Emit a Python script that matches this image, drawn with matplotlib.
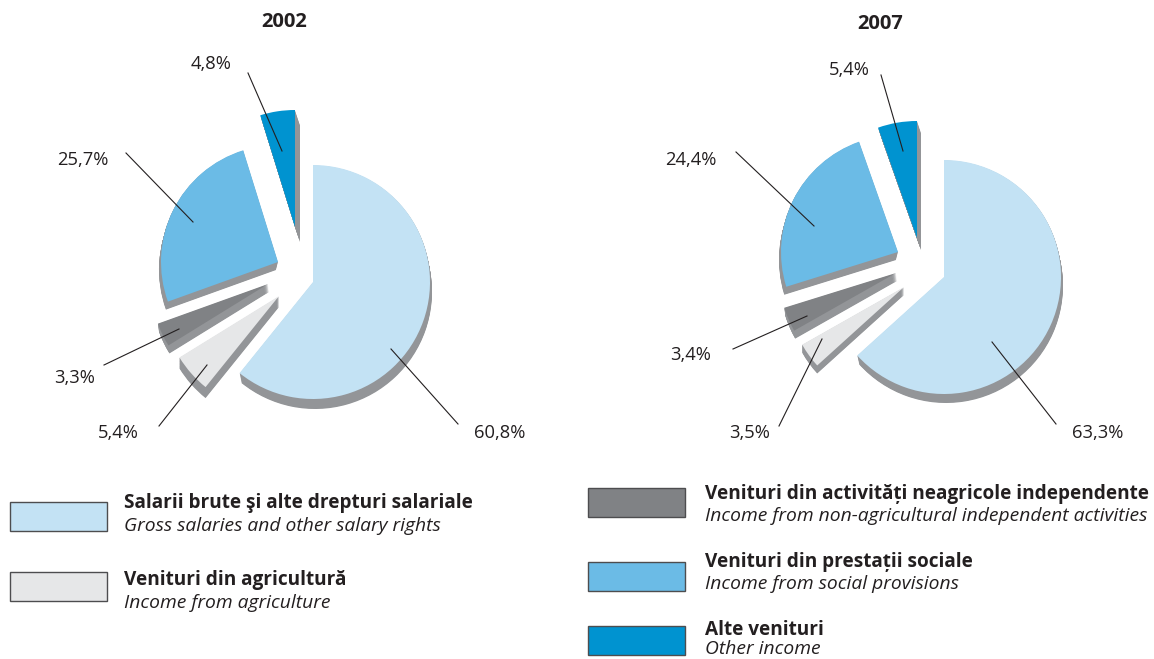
import numpy as np
import matplotlib
matplotlib.use('Agg')
import matplotlib.pyplot as plt
from matplotlib.patches import Wedge, Rectangle

plt.rcParams['font.family'] = ['Open Sans', 'DejaVu Sans']

# same order in both years, clockwise from 12 o'clock
values_2002 = [60.8, 5.4, 3.3, 25.7, 4.8]
values_2007 = [63.3, 3.5, 3.4, 24.4, 5.4]
labels_2002 = ['60,8%', '5,4%', '3,3%', '25,7%', '4,8%']
labels_2007 = ['63,3%', '3,5%', '3,4%', '24,4%', '5,4%']
years = ['2002', '2007']
colors = ['#C3E2F4', '#E6E7E8', '#808285', '#6BBBE6', '#0093D0']
shadow_color = '#939598'
names_ro = ['Salarii brute şi alte drepturi salariale', 'Venituri din agricultură',
            'Venituri din activități neagricole independente', 'Venituri din prestații sociale',
            'Alte venituri']
names_en = ['Gross salaries and other salary rights', 'Income from agriculture',
            'Income from non-agricultural independent activities', 'Income from social provisions',
            'Other income']

W, H = 1154, 659
R = 117
# wedge apex in pixels
apex_2002 = [(313, 282), (279, 296), (268, 284), (278, 262), (295, 227)]
apex_2007 = [(944, 277), (904, 287), (896, 273), (898, 252), (917, 238)]
# side of the 3d edge (dx, dy) in pixels
depth_2002 = [(2, 10), (0, 11), (1, 8), (-2, 8), (5, 15)]
depth_2007 = [(2, 9), (0, 8), (1, 8), (-2, 8), (4, 12)]
# leader lines, (x0, y0, x1, y1)
leaders_2002 = [(391, 349, 458, 424), (207, 365, 159, 426), (179, 329, 104, 365),
                (193, 222, 126, 153), (282, 151, 248, 73)]
leaders_2007 = [(992, 342, 1056, 424), (822, 339, 779, 426), (807, 316, 733, 349),
                (814, 226, 736, 152), (903, 151, 881, 75)]
label_pos_2002 = [(500, 433), (118, 433), (75, 378), (83, 160), (211, 64)]
label_pos_2007 = [(1098, 433), (750, 433), (691, 355), (691, 160), (849, 70)]
title_pos = [(284, 22), (880, 24)]
legend_boxes = [(10, 502), (10, 572), (588, 488), (588, 562), (588, 626)]
legend_text_x = [124, 124, 705, 705, 705]
legend_ro_y = [503, 580, 494, 562, 630]
legend_en_y = [526, 603, 516, 584, 649]
box_w, box_h = 97, 29


def draw_pie(ax, values, apexes, depths, labels, label_pos, leaders):
    angle = 90
    for v, c, (ax_x, ax_y), (dx, dy) in zip(values, colors, apexes, depths):
        sweep = v / sum(values) * 360
        # sweep the wedge to get the grey edge
        for s in np.linspace(1, 0, 16)[:-1]:
            ax.add_patch(Wedge((ax_x + dx * s, H - ax_y - dy * s), R, angle - sweep, angle,
                               fc=shadow_color, ec='none', zorder=2))
        ax.add_patch(Wedge((ax_x, H - ax_y), R, angle - sweep, angle, fc=c, ec='none', zorder=3))
        angle -= sweep
    for x0, y0, x1, y1 in leaders:
        ax.plot([x0, x1], [H - y0, H - y1], color='#231F20', lw=0.8, zorder=4)
    for t, (x, y) in zip(labels, label_pos):
        ax.text(x, H - y, t, ha='center', va='center', fontsize=13.2, color='#231F20')


fig = plt.figure(figsize=(W / 100, H / 100), dpi=100)
ax = fig.add_axes([0, 0, 1, 1])
ax.set_xlim(0, W)
ax.set_ylim(0, H)
ax.axis('off')

draw_pie(ax, values_2002, apex_2002, depth_2002, labels_2002, label_pos_2002, leaders_2002)
draw_pie(ax, values_2007, apex_2007, depth_2007, labels_2007, label_pos_2007, leaders_2007)

for y, (x, py) in zip(years, title_pos):
    ax.text(x, H - py, y, ha='center', va='center', fontsize=14.5, fontweight='bold', color='#231F20')

for i in range(5):
    x, y = legend_boxes[i]
    ax.add_patch(Rectangle((x, H - y - box_h), box_w, box_h, fc=colors[i], ec='#4D4D4F', lw=1))
    ax.text(legend_text_x[i], H - legend_ro_y[i], names_ro[i], ha='left', va='center',
            fontsize=13.7, fontweight='bold', color='#231F20')
    ax.text(legend_text_x[i], H - legend_en_y[i], names_en[i], ha='left', va='center',
            fontsize=13.9, style='italic', color='#231F20')

fig.savefig('out.png', dpi=100)
